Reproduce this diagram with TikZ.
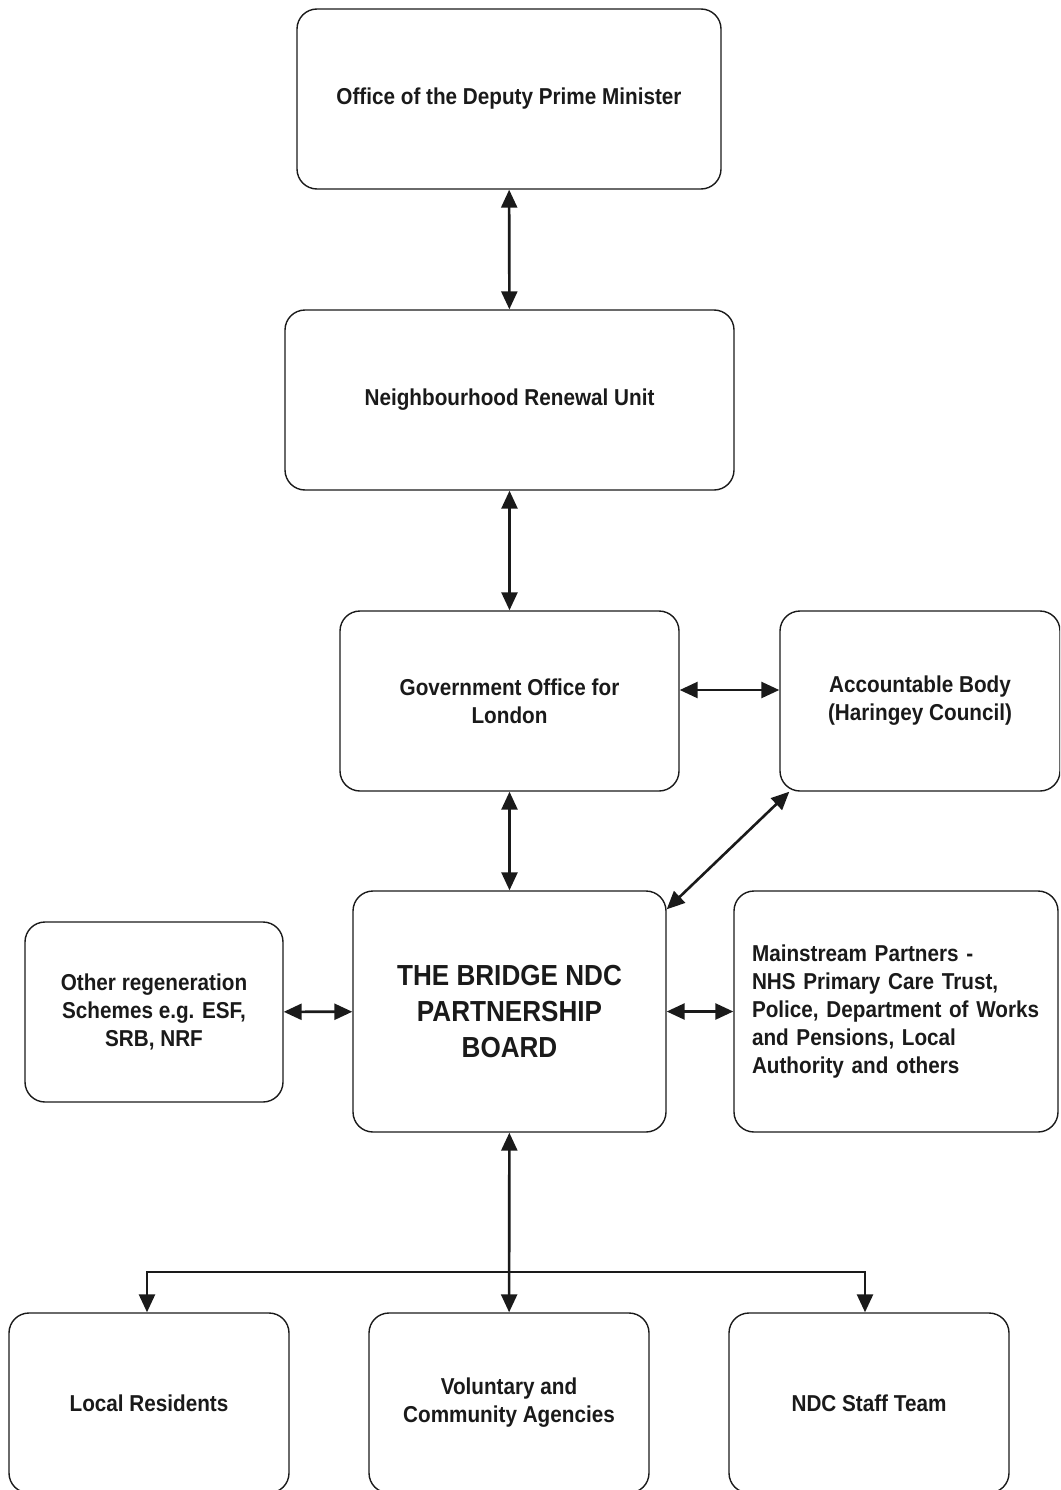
\documentclass[tikz,border=0pt]{standalone}
\usepackage{fontspec}
\setmainfont{Liberation Sans}[FakeStretch=0.9]
\usetikzlibrary{positioning,arrows.meta,calc}
\definecolor{orgline}{HTML}{1A1A1A}
\tikzset{
  unit/.style   ={draw=orgline, line width=1.4pt, rounded corners=20pt,
                  align=center, inner sep=0pt, text=orgline,
                  font=\fontsize{23}{28}\selectfont\bfseries},
  wide/.style   ={unit, minimum height=180pt},
  board/.style  ={unit, minimum height=241pt,
                  font=\fontsize{29}{36}\selectfont\bfseries},
  link/.style   ={draw=orgline, line width=2.6pt, -{Triangle[length=18pt,width=16pt]}},
  link2/.style  ={link, {Triangle[length=18pt,width=16pt]}-{Triangle[length=18pt,width=16pt]}},
}
\begin{document}
\begin{tikzpicture}[x=1pt,y=-1pt]
  \useasboundingbox (0,0) rectangle (1060,1490);
  \clip (0,0) rectangle (1060,1490);
  % top chain
  \node[wide, minimum width=424pt] (odpm) at (509,99) {Office of the Deputy Prime Minister};
  \node[wide, minimum width=449pt] (nru)  at (509.5,400) {Neighbourhood Renewal Unit};
  \node[wide, minimum width=339pt] (gol)  at (509.5,701) {Government Office for\\London};
  \node[wide, minimum width=280pt] (acc)  at (920,701) {Accountable Body\\(Haringey Council)};
  % board row
  \node[board, minimum width=313pt] (ndc) at (509.5,1011.5) {THE BRIDGE NDC\\PARTNERSHIP\\BOARD};
  \node[wide, minimum width=258pt] (other) at (154,1012) {Other regeneration\\Schemes e.g. ESF,\\SRB, NRF};
  \node[unit, minimum width=324pt, minimum height=241pt, text width=288pt, align=left] (main) at (896,1011.5)
    {Mainstream Partners -\\NHS Primary Care Trust,\\Police, Department of Works\\and Pensions, Local\\Authority and others};
  % bottom row
  \node[wide, minimum width=280pt] (res)   at (149,1403) {Local Residents};
  \node[wide, minimum width=280pt] (vol)   at (509,1403) {Voluntary and\\Community Agencies};
  \node[wide, minimum width=280pt] (staff) at (869,1403) {NDC Staff Team};
  % connectors
  \draw[link2] (odpm) -- (nru);
  \draw[link2] (nru) -- (gol);
  \draw[link2] ([yshift=11pt]gol.east) -- ([yshift=11pt]acc.west);
  \draw[link2] (gol) -- (ndc);
  \draw[link2] ([xshift=10pt]acc.south west) -- ([yshift=-19pt]ndc.north east);
  \draw[link2] (other) -- (ndc);
  \draw[link2] (ndc) -- (main);
  \draw[link2] (ndc) -- (vol);
  \coordinate (bus) at (509.5,1272);
  \draw[link] (bus) -| ([xshift=-2pt]res.north);
  \draw[link] (bus) -| ([xshift=-4pt]staff.north);
\end{tikzpicture}
\end{document}
